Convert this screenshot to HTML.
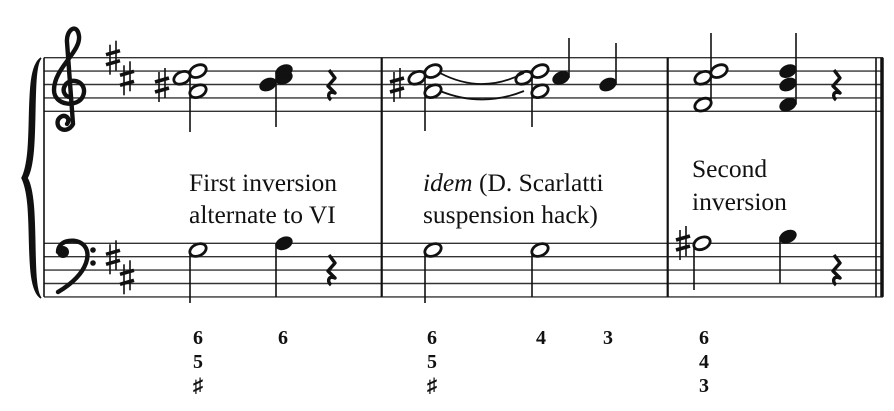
<!DOCTYPE html>
<html><head><meta charset="utf-8"><style>
html,body{margin:0;padding:0;background:#fff;width:894px;height:411px;overflow:hidden}
svg{display:block}
text{font-family:"Liberation Serif",serif;fill:#111}
</style></head><body>
<svg id="score" width="894" height="411" viewBox="0 0 894 411" xmlns="http://www.w3.org/2000/svg">
<g id="staves"></g>
<g id="marks"></g>
<text x="189" y="191" font-size="25.5">First inversion</text>
<text x="189" y="223" font-size="25.5">alternate to VI</text>
<text x="423" y="191" font-size="25.5"><tspan font-style="italic">idem</tspan> (D. Scarlatti</text>
<text x="423" y="223" font-size="25.5">suspension hack)</text>
<text x="692" y="177" font-size="25.5">Second</text>
<text x="692" y="210" font-size="25.5">inversion</text>
<g id="figures"></g>
</svg>
<script>
// data
const figureCols = [198, 283, 432, 541, 608, 704];
const figureText = [["6","5","♯"],["6"],["6","5","♯"],["4"],["3"],["6","4","3"]];
// treble step 0 = E4, bass step 0 = G2
const chordPitches = [[3,5,6],[4,5,6],[3,5,6],[3,5,6],[5],[4],[1,5,6],[1,4,6],
                      [7],[8],[7],[7],[8],[9]];
const chordStaff = ["T","T","T","T","T","T","T","T","B","B","B","B","B","B"];
const chordFilled = [0,1,0,0,1,1,0,1,0,1,0,0,0,1];

const NS="http://www.w3.org/2000/svg";
const mk=document.getElementById('marks');
const stv=document.getElementById('staves');
function el(tag,attrs,parent){const e=document.createElementNS(NS,tag);for(const k in attrs)e.setAttribute(k,attrs[k]);(parent||mk).appendChild(e);return e;}
const TOP={T:57.7,B:243.3}, SP=13.4;
function yOf(staff,step){const bottom=TOP[staff]+4*SP;return bottom-step*SP/2;}

["T","B"].forEach(s=>{for(let i=0;i<5;i++){
  const l=el('line',{x1:44,x2:883,y1:TOP[s]+i*SP,y2:TOP[s]+i*SP,stroke:'#333','stroke-width':1.4},stv);
  
  
}});
[[44,1.6],[381.7,2.2],[667.7,2.2],[876,1.6],[882,3.5]].forEach(([x,w])=>{
  const b=el('line',{x1:x,x2:x,y1:TOP.T,y2:TOP.B+4*SP,stroke:'#111','stroke-width':w},stv);
  
  
});
const br=el('path',{d:'M41,58 C22,70 36,150 22,178 C36,206 22,286 41,298 C30,286 40,200 27,178 C40,156 30,70 41,58 Z',fill:'#111',stroke:'#111','stroke-width':1.5},stv);


const tc=el('path',{d:'M73,124 C68,134 55,130 58,120 C62,112 72,117 67,124 M73,124 L67,42 C66,30 77,22 79,36 C81,52 54,68 54,90 C54,106 78,108 83,96 C88,84 74,76 66,84 C60,92 67,98 71,97',fill:'none',stroke:'#111','stroke-width':4.4,'stroke-linecap':'round'});


const bc=el('path',{d:'M58,252 C58,241 72,238 81,243 C93,250 90,273 58,292',fill:'none',stroke:'#111','stroke-width':4.4,'stroke-linecap':'round'});


el('circle',{cx:63,cy:252,r:6,fill:'#111'});
el('circle',{cx:93,cy:250,r:2.8,fill:'#111'});
el('circle',{cx:93,cy:263,r:2.8,fill:'#111'});

function sharp(x,y,name){
  const g=el('g',{});
  
  
  el('line',{x1:x-3,x2:x-3,y1:y-13,y2:y+17,stroke:'#111','stroke-width':1.6},g);
  el('line',{x1:x+3,x2:x+3,y1:y-17,y2:y+13,stroke:'#111','stroke-width':1.6},g);
  el('line',{x1:x-7,x2:x+7,y1:y-3,y2:y-7,stroke:'#111','stroke-width':3.6},g);
  el('line',{x1:x-7,x2:x+7,y1:y+7,y2:y+3,stroke:'#111','stroke-width':3.6},g);
}
sharp(113,57.7,'key-sharp-f'); sharp(127,78.3,'key-sharp-c');
sharp(113,257.3,'key-sharp-f'); sharp(127,277.3,'key-sharp-c');
sharp(162,85,'accidental-sharp'); sharp(397,85,'accidental-sharp'); sharp(683,243,'accidental-sharp');

const layout=[
 {sx:190,dir:-1,end:132,left:[5]},{sx:276,dir:-1,end:127,left:[4]},
 {sx:425,dir:-1,end:131,left:[5]},{sx:532,dir:-1,end:127,left:[5]},
 {sx:569,dir:1,end:38,left:[]},{sx:616,dir:1,end:43,left:[]},
 {sx:711,dir:1,end:33,left:[],right:[6]},{sx:796,dir:1,end:33,left:[]},
 {sx:190,dir:-1,end:303,left:[]},{sx:276,dir:-1,end:297,left:[]},
 {sx:425,dir:-1,end:303,left:[]},{sx:532,dir:-1,end:297,left:[]},
 {sx:694,dir:-1,end:290,left:[]},{sx:780,dir:-1,end:283,left:[]}];
chordPitches.forEach((ps,i)=>{
  const L=layout[i], st=chordStaff[i];
  const g=el('g',{});
  
  
  const ys=ps.map(p=>yOf(st,p));
  const yTop=L.dir<0?Math.min(...ys):Math.max(...ys);
  el('line',{x1:L.sx,x2:L.sx,y1:yTop,y2:L.end,stroke:'#111','stroke-width':1.6},g);
  ps.forEach((p,j)=>{
    let hx;
    if(L.dir<0){hx=L.left.includes(p)?L.sx-8:L.sx+8;}
    else{hx=(L.right&&L.right.includes(p))?L.sx+8:L.sx-8;}
    const y=ys[j];
    const h=el('ellipse',{cx:hx,cy:y,rx:8.6,ry:5.8,transform:`rotate(-25 ${hx} ${y})`,fill:chordFilled[i]?'#111':'#fff',stroke:'#111','stroke-width':chordFilled[i]?1:2.8},g);
    
    
  });
});
el('path',{d:'M440,73 Q482,95 524,73',fill:'none',stroke:'#111','stroke-width':1.8});
el('path',{d:'M440,91 Q482,108 524,91',fill:'none',stroke:'#111','stroke-width':1.8});
function rest(x,y){
  const r=el('path',{d:`M${x-2},${y-15} L${x+4},${y-7} L${x-3},${y+1} L${x+4},${y+8} C${x-3},${y+5} ${x-4},${y+12} ${x},${y+15}`,fill:'none',stroke:'#111','stroke-width':3.4,'stroke-linejoin':'round'});
  
  
}
rest(331,85); rest(331,270); rest(836,85); rest(836,270);

const fg=document.getElementById('figures');
figureText.forEach((col,i)=>{col.forEach((t,j)=>{
  const tx=el('text',{x:figureCols[i],y:344+j*24,'font-size':20,'font-weight':'bold','text-anchor':'middle'},fg);
  tx.textContent=t;
  
  
});});
</script>
</body></html>
